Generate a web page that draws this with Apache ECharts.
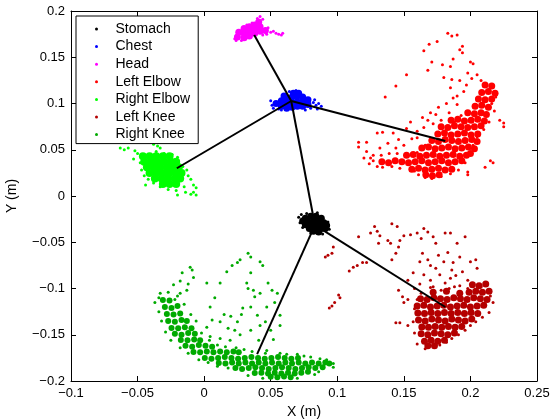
<!DOCTYPE html>
<html><head><meta charset="utf-8">
<script src="https://cdn.jsdelivr.net/npm/echarts/dist/echarts.min.js"></script>
<style>html,body{margin:0;padding:0;background:#fff}#c{width:555px;height:419px}</style>
</head><body><div id="c"></div>
<script>
const xTickLabels = ['\u22120.1','\u22120.05','0','0.05','0.1','0.15','0.2','0.25'];
const yTickLabels = ['\u22120.2','\u22120.15','\u22120.1','\u22120.05','0','0.05','0.1','0.15','0.2'];
const partNames = ['Stomach','Chest','Head','Left Elbow','Right Elbow','Left Knee','Right Knee'];
const partColors = ['#000000','#0000ff','#ff00ff','#ff0000','#00ff00','#b40000','#00aa00'];

// joint centres (end points of the skeleton lines)
const jointNames = ['Stomach','Chest','Head','Left Elbow','Right Elbow','Left Knee','Right Knee'];
const jointX = [0.0832, 0.0654, 0.0376, 0.1811, -0.0205, 0.1811, 0.0398];
const jointY = [-0.0314, 0.1027, 0.1740, 0.0595, 0.0300, -0.1200, -0.1710];
const segmentFrom = ['Chest','Chest','Chest','Chest','Stomach','Stomach'];
const segmentTo   = ['Head','Left Elbow','Right Elbow','Stomach','Left Knee','Right Knee'];

const stomachDense = [[0.076,-0.024],[0.080,-0.022],[0.084,-0.022],[0.088,-0.024],[0.078,-0.028],[0.082,-0.027],[0.086,-0.027],[0.090,-0.029],[0.076,-0.031],[0.080,-0.031],[0.084,-0.031],[0.088,-0.032],[0.079,-0.035],[0.083,-0.035],[0.087,-0.036],[0.091,-0.035],[0.082,-0.038],[0.086,-0.039],[0.074,-0.027],[0.092,-0.032]];
const stomachSparse = [[0.071,-0.023],[0.073,-0.020],[0.074,-0.034],[0.093,-0.028],[0.094,-0.036],[0.089,-0.041],[0.080,-0.040],[0.077,-0.019],[0.085,-0.018],[0.072,-0.029]];

const chestDense = [[0.054,0.100],[0.058,0.097],[0.058,0.103],[0.062,0.095],[0.062,0.100],[0.062,0.106],[0.066,0.096],[0.066,0.101],[0.066,0.107],[0.070,0.097],[0.070,0.102],[0.070,0.108],[0.074,0.097],[0.074,0.102],[0.074,0.107],[0.078,0.099],[0.078,0.104],[0.067,0.111],[0.071,0.111],[0.060,0.108]];
const chestSparse = [[0.050,0.103],[0.051,0.098],[0.052,0.095],[0.056,0.094],[0.082,0.101],[0.084,0.098],[0.086,0.100],[0.088,0.097],[0.083,0.104],[0.080,0.095],[0.064,0.113],[0.069,0.114],[0.058,0.093],[0.076,0.093],[0.085,0.094]];

const headDense = [[0.025,0.172],[0.026,0.177],[0.030,0.171],[0.030,0.176],[0.030,0.181],[0.034,0.173],[0.034,0.178],[0.034,0.183],[0.038,0.176],[0.038,0.181],[0.038,0.185],[0.042,0.178],[0.042,0.183],[0.041,0.188],[0.046,0.179]];
const headSparse = [[0.023,0.170],[0.024,0.168],[0.028,0.168],[0.032,0.185],[0.036,0.187],[0.040,0.192],[0.042,0.194],[0.044,0.191],[0.048,0.182],[0.050,0.177],[0.052,0.178],[0.054,0.176],[0.056,0.175],[0.058,0.174],[0.059,0.176],[0.047,0.175],[0.044,0.174]];

const leftElbowDense = [[0.211,0.120],[0.216,0.119],[0.2085,0.112],[0.2135,0.113],[0.2185,0.111],[0.206,0.105],[0.211,0.104],[0.216,0.105],[0.2035,0.097],[0.2085,0.098],[0.2135,0.096],[0.198,0.090],[0.203,0.089],[0.208,0.090],[0.212,0.088],[0.1855,0.082],[0.1905,0.083],[0.1955,0.081],[0.2005,0.082],[0.2055,0.083],[0.2105,0.081],[0.178,0.075],[0.183,0.074],[0.188,0.076],[0.193,0.075],[0.198,0.074],[0.203,0.075],[0.208,0.076],[0.1755,0.067],[0.1805,0.068],[0.1855,0.066],[0.1905,0.067],[0.1955,0.068],[0.2005,0.066],[0.2055,0.067],[0.171,0.060],[0.176,0.059],[0.181,0.061],[0.186,0.060],[0.191,0.059],[0.196,0.060],[0.201,0.061],[0.205,0.059],[0.1635,0.052],[0.1685,0.053],[0.1735,0.051],[0.1785,0.052],[0.1835,0.053],[0.1885,0.051],[0.1935,0.052],[0.1985,0.053],[0.203,0.051],[0.152,0.044],[0.157,0.045],[0.162,0.043],[0.167,0.044],[0.172,0.045],[0.177,0.043],[0.182,0.044],[0.187,0.045],[0.192,0.043],[0.197,0.044],[0.200,0.046],[0.1335,0.037],[0.1385,0.036],[0.1435,0.038],[0.1485,0.037],[0.1535,0.036],[0.1585,0.037],[0.1635,0.038],[0.1685,0.036],[0.1735,0.037],[0.1785,0.038],[0.1835,0.036],[0.1885,0.037],[0.1935,0.038],[0.156,0.029],[0.161,0.030],[0.166,0.028],[0.171,0.029],[0.176,0.030],[0.181,0.028],[0.186,0.029],[0.1665,0.023],[0.1715,0.022],[0.1765,0.023]];
const leftElbowSparse = [[0.183,0.176],[0.186,0.173],[0.190,0.174],[0.194,0.162],[0.192,0.158],[0.169,0.164],[0.175,0.167],[0.165,0.157],[0.194,0.155],[0.171,0.145],[0.187,0.148],[0.200,0.145],[0.202,0.143],[0.179,0.142],[0.185,0.140],[0.168,0.136],[0.152,0.131],[0.144,0.119],[0.136,0.107],[0.180,0.128],[0.186,0.126],[0.198,0.133],[0.205,0.131],[0.185,0.117],[0.187,0.106],[0.192,0.125],[0.197,0.120],[0.201,0.127],[0.208,0.125],[0.195,0.113],[0.190,0.108],[0.182,0.100],[0.176,0.096],[0.170,0.090],[0.164,0.085],[0.168,0.082],[0.174,0.088],[0.155,0.080],[0.152,0.073],[0.142,0.068],[0.134,0.069],[0.130,0.068],[0.116,0.058],[0.116,0.053],[0.122,0.058],[0.122,0.048],[0.127,0.044],[0.132,0.052],[0.138,0.057],[0.146,0.061],[0.150,0.055],[0.156,0.062],[0.160,0.070],[0.165,0.074],[0.172,0.078],[0.178,0.082],[0.184,0.090],[0.190,0.099],[0.161,0.023],[0.166,0.020],[0.198,0.026],[0.198,0.023],[0.211,0.031],[0.217,0.036],[0.215,0.038],[0.222,0.082],[0.225,0.079],[0.225,0.075],[0.218,0.092],[0.216,0.100],[0.219,0.107],[0.214,0.080],[0.210,0.072],[0.205,0.064],[0.202,0.055],[0.199,0.045],[0.196,0.036],[0.191,0.028],[0.185,0.024],[0.178,0.021],[0.171,0.019],[0.158,0.027],[0.153,0.043],[0.145,0.046],[0.139,0.046],[0.133,0.044],[0.125,0.041],[0.120,0.041],[0.134,0.031],[0.141,0.032],[0.147,0.030],[0.130,0.032],[0.124,0.035],[0.160,0.047],[0.166,0.055],[0.172,0.060],[0.176,0.069],[0.182,0.074],[0.188,0.080],[0.193,0.087],[0.160,0.063],[0.144,0.052],[0.127,0.038]];

const rightElbowDense = [[-0.046,0.043],[-0.041,0.043],[-0.036,0.043],[-0.031,0.043],[-0.026,0.043],[-0.045,0.037],[-0.040,0.037],[-0.035,0.037],[-0.030,0.037],[-0.025,0.037],[-0.021,0.037],[-0.043,0.031],[-0.038,0.031],[-0.033,0.031],[-0.028,0.031],[-0.023,0.031],[-0.019,0.031],[-0.041,0.025],[-0.036,0.025],[-0.031,0.025],[-0.026,0.025],[-0.021,0.025],[-0.017,0.025],[-0.037,0.019],[-0.032,0.019],[-0.027,0.019],[-0.022,0.019],[-0.018,0.019],[-0.031,0.013],[-0.026,0.013],[-0.021,0.013]];
const rightElbowSparse = [[-0.063,0.052],[-0.060,0.050],[-0.057,0.052],[-0.052,0.049],[-0.050,0.046],[-0.053,0.040],[-0.048,0.036],[-0.047,0.028],[-0.045,0.022],[-0.042,0.018],[-0.038,0.014],[-0.033,0.010],[-0.027,0.007],[-0.021,0.006],[-0.015,0.010],[-0.012,0.022],[-0.010,0.018],[-0.008,0.012],[-0.006,0.009],[-0.014,0.004],[-0.010,0.002],[-0.020,0.001],[-0.024,0.045],[-0.020,0.042],[-0.016,0.032],[-0.013,0.028],[-0.036,0.048],[-0.030,0.046],[-0.044,0.012],[-0.008,0.004],[-0.006,0.001],[-0.038,0.056],[-0.035,0.054],[-0.033,0.052]];

const leftKneeDense = [[0.2015,-0.096],[0.2065,-0.097],[0.2115,-0.095],[0.172,-0.104],[0.182,-0.103],[0.192,-0.105],[0.199,-0.104],[0.204,-0.103],[0.209,-0.104],[0.214,-0.103],[0.1625,-0.111],[0.1675,-0.112],[0.1725,-0.110],[0.1775,-0.111],[0.1825,-0.112],[0.1875,-0.110],[0.1925,-0.111],[0.1975,-0.112],[0.2025,-0.110],[0.2075,-0.111],[0.2125,-0.112],[0.160,-0.119],[0.165,-0.118],[0.170,-0.120],[0.175,-0.119],[0.180,-0.118],[0.185,-0.120],[0.190,-0.119],[0.195,-0.118],[0.200,-0.120],[0.205,-0.119],[0.210,-0.118],[0.1605,-0.1265],[0.1655,-0.127],[0.1705,-0.126],[0.1755,-0.127],[0.1805,-0.126],[0.1855,-0.127],[0.1905,-0.126],[0.1955,-0.127],[0.2005,-0.126],[0.2055,-0.127],[0.161,-0.134],[0.166,-0.135],[0.171,-0.133],[0.176,-0.134],[0.181,-0.135],[0.186,-0.133],[0.191,-0.134],[0.196,-0.135],[0.201,-0.133],[0.1635,-0.1415],[0.1685,-0.142],[0.1735,-0.141],[0.1785,-0.142],[0.1835,-0.141],[0.1885,-0.142],[0.1935,-0.141],[0.163,-0.149],[0.168,-0.150],[0.173,-0.148],[0.178,-0.149],[0.183,-0.150],[0.188,-0.148],[0.1655,-0.157],[0.1705,-0.156],[0.1755,-0.157],[0.1805,-0.156],[0.168,-0.162],[0.173,-0.162]];
const leftKneeSparse = [[0.091,-0.066],[0.093,-0.064],[0.096,-0.062],[0.097,-0.055],[0.109,-0.081],[0.112,-0.077],[0.115,-0.075],[0.119,-0.072],[0.122,-0.072],[0.094,-0.121],[0.096,-0.119],[0.098,-0.115],[0.102,-0.110],[0.101,-0.107],[0.116,-0.044],[0.125,-0.040],[0.128,-0.033],[0.130,-0.038],[0.141,-0.030],[0.145,-0.033],[0.131,-0.051],[0.138,-0.048],[0.140,-0.051],[0.141,-0.069],[0.144,-0.062],[0.146,-0.055],[0.147,-0.048],[0.150,-0.043],[0.155,-0.042],[0.160,-0.040],[0.165,-0.035],[0.168,-0.039],[0.174,-0.051],[0.181,-0.040],[0.185,-0.040],[0.196,-0.044],[0.190,-0.051],[0.183,-0.061],[0.176,-0.064],[0.164,-0.062],[0.162,-0.071],[0.168,-0.069],[0.180,-0.071],[0.187,-0.072],[0.192,-0.066],[0.200,-0.071],[0.204,-0.069],[0.205,-0.078],[0.194,-0.082],[0.198,-0.091],[0.157,-0.083],[0.153,-0.091],[0.165,-0.085],[0.170,-0.091],[0.177,-0.085],[0.181,-0.094],[0.185,-0.089],[0.149,-0.109],[0.153,-0.112],[0.150,-0.115],[0.146,-0.102],[0.144,-0.137],[0.147,-0.137],[0.153,-0.140],[0.158,-0.100],[0.162,-0.095],[0.172,-0.098],[0.178,-0.102],[0.188,-0.098],[0.192,-0.097],[0.198,-0.100],[0.210,-0.105],[0.215,-0.108],[0.217,-0.115],[0.214,-0.126],[0.209,-0.131],[0.204,-0.136],[0.200,-0.140],[0.196,-0.145],[0.191,-0.150],[0.186,-0.154],[0.182,-0.158],[0.177,-0.161],[0.166,-0.165],[0.160,-0.160],[0.158,-0.148],[0.157,-0.136],[0.158,-0.122],[0.160,-0.112],[0.163,-0.105],[0.170,-0.099],[0.184,-0.100],[0.208,-0.098],[0.174,-0.078],[0.186,-0.080],[0.189,-0.086],[0.170,-0.075],[0.132,-0.043],[0.163,-0.046],[0.172,-0.044]];

const rightKneeDense = [[-0.031,-0.1124],[-0.026,-0.113],[-0.0295,-0.120],[-0.0245,-0.121],[-0.020,-0.119],[-0.028,-0.1276],[-0.023,-0.128],[-0.018,-0.127],[-0.027,-0.135],[-0.022,-0.136],[-0.017,-0.134],[-0.013,-0.135],[-0.0245,-0.1427],[-0.0195,-0.143],[-0.0145,-0.142],[-0.0095,-0.143],[-0.022,-0.149],[-0.017,-0.150],[-0.012,-0.148],[-0.007,-0.149],[-0.0175,-0.1557],[-0.0125,-0.156],[-0.0075,-0.155],[-0.003,-0.156],[-0.014,-0.162],[-0.009,-0.163],[-0.004,-0.161],[0.001,-0.162],[0.006,-0.163],[-0.008,-0.1686],[-0.003,-0.169],[0.002,-0.168],[0.007,-0.169],[0.012,-0.168],[0.017,-0.169],[0.022,-0.168],[0.026,-0.169],[0.0005,-0.175],[0.0055,-0.176],[0.0105,-0.175],[0.0155,-0.174],[0.0205,-0.175],[0.0255,-0.176],[0.0305,-0.175],[0.0355,-0.174],[0.0405,-0.175],[0.0455,-0.176],[0.0505,-0.175],[0.0555,-0.174],[0.0605,-0.175],[0.0655,-0.176],[0.0705,-0.175],[0.011,-0.1805],[0.016,-0.181],[0.021,-0.180],[0.026,-0.181],[0.031,-0.180],[0.036,-0.181],[0.041,-0.180],[0.046,-0.181],[0.051,-0.180],[0.056,-0.181],[0.061,-0.180],[0.066,-0.181],[0.071,-0.180],[0.076,-0.181],[0.081,-0.180],[0.086,-0.181],[0.091,-0.180],[0.094,-0.181],[0.0235,-0.186],[0.0285,-0.187],[0.0335,-0.186],[0.0385,-0.185],[0.0435,-0.186],[0.0485,-0.187],[0.0535,-0.186],[0.0585,-0.185],[0.0635,-0.186],[0.0685,-0.187],[0.0735,-0.186],[0.0785,-0.185],[0.0835,-0.186],[0.089,-0.185],[0.038,-0.1914],[0.043,-0.191],[0.048,-0.192],[0.053,-0.191],[0.058,-0.192],[0.063,-0.191],[0.068,-0.192],[0.073,-0.191],[0.078,-0.190],[0.050,-0.1955],[0.055,-0.196],[0.060,-0.195],[0.065,-0.196]];
const rightKneeSparse = [[-0.0165,-0.083],[-0.0105,-0.077],[-0.009,-0.080],[-0.023,-0.096],[-0.018,-0.105],[-0.013,-0.102],[-0.008,-0.088],[0.002,-0.094],[0.012,-0.094],[0.0045,-0.120],[0.008,-0.110],[0.017,-0.082],[0.021,-0.075],[0.025,-0.072],[0.027,-0.069],[0.033,-0.062],[0.035,-0.066],[0.042,-0.071],[0.044,-0.075],[0.035,-0.083],[0.032,-0.094],[0.033,-0.100],[0.037,-0.102],[0.042,-0.105],[0.038,-0.109],[0.035,-0.120],[0.029,-0.121],[0.025,-0.136],[0.023,-0.145],[0.018,-0.143],[0.012,-0.136],[0.006,-0.134],[0.002,-0.142],[0.0045,-0.152],[0.012,-0.154],[0.0195,-0.156],[0.027,-0.150],[0.035,-0.145],[0.046,-0.136],[0.047,-0.120],[0.048,-0.094],[0.051,-0.102],[0.055,-0.105],[0.053,-0.115],[0.057,-0.129],[0.057,-0.140],[0.041,-0.156],[0.047,-0.167],[0.057,-0.170],[0.070,-0.171],[0.080,-0.174],[0.087,-0.176],[0.092,-0.177],[-0.033,-0.105],[-0.034,-0.110],[-0.027,-0.104],[-0.022,-0.112],[-0.020,-0.108],[-0.015,-0.117],[-0.010,-0.128],[-0.006,-0.135],[-0.002,-0.148],[0.004,-0.156],[0.010,-0.161],[0.016,-0.163],[0.024,-0.164],[0.030,-0.166],[0.036,-0.168],[0.046,-0.170],[0.062,-0.171],[0.075,-0.173],[0.097,-0.181],[0.097,-0.185],[0.086,-0.190],[0.083,-0.193],[0.070,-0.197],[0.044,-0.197],[0.033,-0.194],[0.018,-0.186],[0.010,-0.184],[0.003,-0.180],[-0.004,-0.177],[-0.012,-0.170],[-0.018,-0.164],[-0.025,-0.156],[-0.029,-0.147],[-0.032,-0.135],[-0.034,-0.125],[-0.037,-0.115],[-0.018,-0.092],[-0.012,-0.095],[0.015,-0.128],[0.020,-0.130],[0.028,-0.128],[0.040,-0.129],[0.042,-0.140],[0.050,-0.145],[0.052,-0.155]];

const denseSets = [stomachDense, chestDense, headDense, leftElbowDense, rightElbowDense, leftKneeDense, rightKneeDense];
const sparseSets = [stomachSparse, chestSparse, headSparse, leftElbowSparse, rightElbowSparse, leftKneeSparse, rightKneeSparse];
const denseSizes = [7, 7, 7, 7, 8, 7, 6];

const FONT = '"Liberation Sans", Arial, Helvetica, sans-serif';
const chart = echarts.init(document.getElementById('c'), null, {renderer:'canvas'});

const series = [];
partNames.forEach((n, i) => {
  series.push({type:'scatter', name:n, data:sparseSets[i], symbol:'circle', symbolSize:3,
    itemStyle:{color:partColors[i], opacity:1}, silent:true, animation:false, z:2});
  series.push({type:'scatter', name:n, data:denseSets[i], symbol:'circle', symbolSize:denseSizes[i],
    itemStyle:{color:partColors[i], opacity:1}, silent:true, animation:false, z:2});
});
const jointPos = name => { const k = jointNames.indexOf(name); return [jointX[k], jointY[k]]; };
series.push({type:'lines', coordinateSystem:'cartesian2d', silent:true, animation:false, z:5,
  lineStyle:{color:'#000', width:2, opacity:1},
  data: segmentFrom.map((f, i) => ({coords:[jointPos(f), jointPos(segmentTo[i])]}))});

const axisCommon = {
  type:'value', splitLine:{show:false},
  axisLine:{show:true, onZero:false, lineStyle:{color:'#000', width:1}},
  axisTick:{show:true, inside:true, length:5, lineStyle:{color:'#000', width:1}}
};
chart.setOption({
  animation:false,
  backgroundColor:'#fff',
  grid:{left:71, right:18, top:11, bottom:38, containLabel:false, outerBoundsMode:'none'},
  xAxis:[
    Object.assign({}, axisCommon, {min:-0.1, max:0.25, interval:0.05, position:'bottom',
      axisLabel:{color:'#000', fontSize:13, fontFamily:FONT, margin:6,
        formatter: v => xTickLabels[Math.round((v + 0.1) / 0.05)]},
      name:'X (m)', nameLocation:'middle', nameGap:20,
      nameTextStyle:{color:'#000', fontSize:14, fontFamily:FONT}}),
    Object.assign({}, axisCommon, {min:-0.1, max:0.25, interval:0.05, position:'top',
      axisLabel:{show:false}})
  ],
  yAxis:[
    Object.assign({}, axisCommon, {min:-0.2, max:0.2, interval:0.05, position:'left',
      axisLabel:{color:'#000', fontSize:13, fontFamily:FONT, margin:6,
        formatter: v => yTickLabels[Math.round((v + 0.2) / 0.05)]},
      name:'Y (m)', nameLocation:'middle', nameGap:52, nameRotate:90,
      nameTextStyle:{color:'#000', fontSize:14, fontFamily:FONT}}),
    Object.assign({}, axisCommon, {min:-0.2, max:0.2, interval:0.05, position:'right',
      axisLabel:{show:false}})
  ],
  legend:{
    data:partNames, orient:'vertical', left:76, top:16,
    backgroundColor:'#fff', borderColor:'#000', borderWidth:1, borderRadius:0,
    padding:[6,8,2,19], itemGap:3.6, itemWidth:28, itemHeight:3, icon:'circle',
    selectedMode:false,
    textStyle:{color:'#000', fontSize:14, lineHeight:14, fontFamily:FONT, padding:[0,0,0,0]}
  },
  series: series
});
</script>
</body></html>
